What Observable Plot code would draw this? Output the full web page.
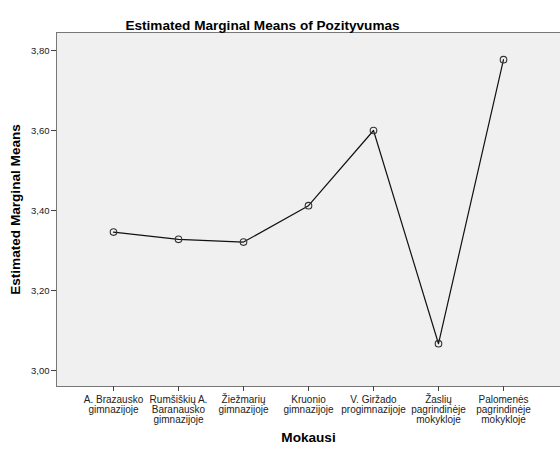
<!DOCTYPE html>
<html><head><meta charset="utf-8">
<script src="https://cdn.jsdelivr.net/npm/d3@7"></script>
<script src="https://cdn.jsdelivr.net/npm/@observablehq/plot@0.6"></script>
<style>body{margin:0;background:#fff}</style>
</head><body><div id="chart"></div>
<script>
const categories = ["A. Brazausko gimnazijoje","Rumšiškių A. Baranausko gimnazijoje","Žiežmarių gimnazijoje","Kruonio gimnazijoje","V. Giržado progimnazijoje","Žaslių pagrindinėje mokykloje","Palomenės pagrindinėje mokykloje"];
const tickLabels = ["A. Brazausko\ngimnazijoje","Rumšiškių A.\nBaranausko\ngimnazijoje","Žiežmarių\ngimnazijoje","Kruonio\ngimnazijoje","V. Giržado\nprogimnazijoje","Žaslių\npagrindinėje\nmokykloje","Palomenės\npagrindinėje\nmokykloje"];
const means = [3.346, 3.328, 3.321, 3.412, 3.600, 3.067, 3.777];
const yTicks = [3.0, 3.2, 3.4, 3.6, 3.8];
const title = "Estimated Marginal Means of Pozityvumas";
const yLabel = "Estimated Marginal Means";
const xLabel = "Mokausi";

const data = categories.map((c, i) => ({cat: c, mean: means[i]}));

const chart = Plot.plot({
  width: 560, height: 451,
  marginTop: 32, marginBottom: 65, marginLeft: 56, marginRight: 0,
  style: {fontFamily: "'Liberation Sans', Arial, sans-serif", fontSize: "10px", background: "#fff", color: "#222"},
  x: {type: "point", domain: categories, padding: 0.86, label: null},
  y: {domain: [2.96, 3.845], label: null},
  marks: [
    Plot.frame({fill: "#f0f0f0", stroke: "#777"}),
    Plot.axisY({ticks: yTicks, tickFormat: d => d.toFixed(2).replace(".", ","), tickSize: 5, tickPadding: 2, fontSize: 9.5, label: null, stroke: "#444"}),
    Plot.axisX({tickFormat: (d) => tickLabels[categories.indexOf(d)], tickSize: 5, tickPadding: 5, lineHeight: 0.98, label: null, stroke: "#444"}),
    Plot.line(data, {x: "cat", y: "mean", stroke: "#111", strokeWidth: 1.2}),
    Plot.dot(data, {x: "cat", y: "mean", r: 3.3, stroke: "#333", strokeWidth: 1.1, fill: "none"}),
    Plot.text([title], {frameAnchor: "top-left", dx: 206, dy: -12, textAnchor: "middle", fontWeight: "bold", fontSize: 13.6, fill: "#000"}),
    Plot.text([yLabel], {frameAnchor: "left", dx: -41, rotate: -90, textAnchor: "middle", fontWeight: "bold", fontSize: 13.6, fill: "#000"}),
    Plot.text([xLabel], {frameAnchor: "bottom", dy: 55, fontWeight: "bold", fontSize: 13.6, fill: "#000"})
  ]
});
document.getElementById("chart").appendChild(chart);
</script></body></html>
